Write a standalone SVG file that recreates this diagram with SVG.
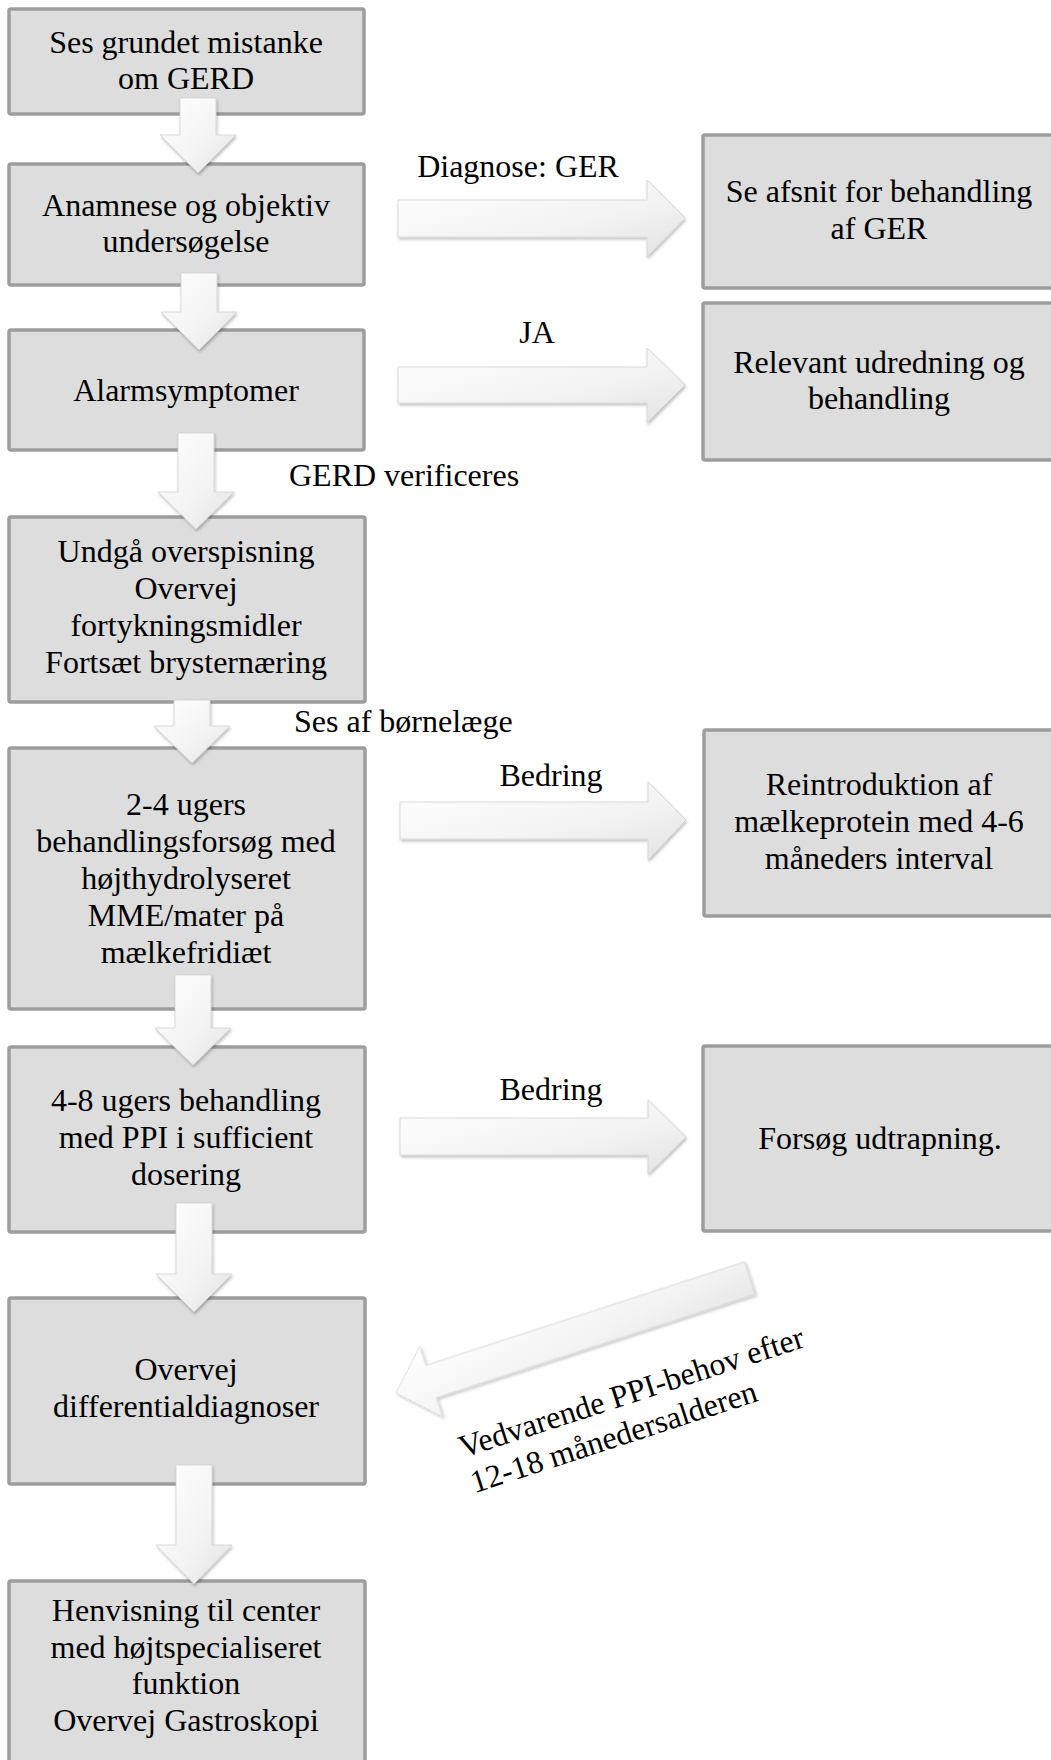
<svg xmlns="http://www.w3.org/2000/svg" width="1051" height="1760" viewBox="0 0 1051 1760">
<defs>
<linearGradient id="ag" x1="0" y1="0" x2="1" y2="1">
<stop offset="0" stop-color="#ffffff"/>
<stop offset="0.6" stop-color="#f3f3f3"/>
<stop offset="1" stop-color="#e2e2e2"/>
</linearGradient>
<filter id="sh" x="-20%" y="-20%" width="140%" height="140%">
<feDropShadow dx="1" dy="2" stdDeviation="1.5" flood-color="#000" flood-opacity="0.25"/>
</filter>
</defs>
<style>
.box{fill:#dddddd;stroke:#9d9d9d;stroke-width:3.5}
.t{font-family:"Liberation Serif","Times New Roman",serif;font-size:32px;fill:#000;text-anchor:middle}
.l{font-family:"Liberation Serif","Times New Roman",serif;font-size:32px;fill:#000}
.arr{fill:url(#ag);stroke:#d2d2d2;stroke-width:0.8;filter:url(#sh)}
</style>
<rect width="1051" height="1760" fill="#ffffff"/>

<g id="n1"><rect class="box" x="9" y="9" width="355" height="105" rx="2"/>
<text class="t" x="186" y="53">Ses grundet mistanke</text><text class="t" x="186" y="89">om GERD</text></g>

<g id="n2"><rect class="box" x="9" y="164" width="355" height="121" rx="2"/>
<text class="t" x="186" y="216">Anamnese og objektiv</text><text class="t" x="186" y="252">undersøgelse</text></g>

<g id="n3"><rect class="box" x="9" y="330" width="355" height="120" rx="2"/>
<text class="t" x="186" y="401">Alarmsymptomer</text></g>

<g id="n4"><rect class="box" x="9" y="517" width="356" height="185" rx="2"/>
<text class="t" x="186" y="562">Undgå overspisning</text><text class="t" x="186" y="599">Overvej</text><text class="t" x="186" y="636">fortykningsmidler</text><text class="t" x="186" y="673">Fortsæt brysternæring</text></g>

<g id="n5"><rect class="box" x="9" y="748" width="356" height="261" rx="2"/>
<text class="t" x="186" y="815">2-4 ugers</text><text class="t" x="186" y="852">behandlingsforsøg med</text><text class="t" x="186" y="889">højthydrolyseret</text><text class="t" x="186" y="926">MME/mater på</text><text class="t" x="186" y="963">mælkefridiæt</text></g>

<g id="n6"><rect class="box" x="9" y="1047" width="356" height="185" rx="2"/>
<text class="t" x="186" y="1111">4-8 ugers behandling</text><text class="t" x="186" y="1148">med PPI i sufficient</text><text class="t" x="186" y="1185">dosering</text></g>

<g id="n7"><rect class="box" x="9" y="1298" width="356" height="186" rx="2"/>
<text class="t" x="186" y="1380">Overvej</text><text class="t" x="186" y="1417">differentialdiagnoser</text></g>

<g id="n8"><rect class="box" x="9" y="1581" width="356" height="200" rx="2"/>
<text class="t" x="186" y="1621">Henvisning til center</text><text class="t" x="186" y="1658">med højtspecialiseret</text><text class="t" x="186" y="1694">funktion</text><text class="t" x="186" y="1731">Overvej Gastroskopi</text></g>

<g id="r1"><rect class="box" x="703" y="135" width="360" height="153" rx="2"/>
<text class="t" x="879" y="202">Se afsnit for behandling</text><text class="t" x="879" y="239">af GER</text></g>

<g id="r2"><rect class="box" x="703" y="303" width="360" height="157" rx="2"/>
<text class="t" x="879" y="373">Relevant udredning og</text><text class="t" x="879" y="409">behandling</text></g>

<g id="r3"><rect class="box" x="704" y="730" width="360" height="186" rx="2"/>
<text class="t" x="879" y="795">Reintroduktion af</text><text class="t" x="879" y="832">mælkeprotein med 4-6</text><text class="t" x="879" y="869">måneders interval</text></g>

<g id="r4"><rect class="box" x="703" y="1046" width="360" height="185" rx="2"/>
<text class="t" x="880" y="1149">Forsøg udtrapning.</text></g>

<g id="connectors">
<polygon class="arr" points="180,98 216,98 216,135 236,135 198,173 160,135 180,135"/>
<polygon class="arr" points="181,273 217,273 217,312 237,312 199,350 161,312 181,312"/>
<polygon class="arr" points="178,433 214,433 214,492 234,492 196,529 158,492 178,492"/>
<polygon class="arr" points="174,700 210,700 210,726 230,726 192,763 154,726 174,726"/>
<polygon class="arr" points="175,975 211,975 211,1028 231,1028 193,1065 155,1028 175,1028"/>
<polygon class="arr" points="176,1203 212,1203 212,1274 232,1274 194,1312 156,1274 176,1274"/>
<polygon class="arr" points="176,1465 212,1465 212,1545 232,1545 194,1584 156,1545 176,1545"/>

<polygon class="arr" points="398,200 647,200 647,180 685,218 647,257 647,237 398,237"/>
<polygon class="arr" points="398,367 647,367 647,348 685,385 647,423 647,403 398,403"/>
<polygon class="arr" points="400,802 648,802 648,782 686,820 648,860 648,839 400,839"/>
<polygon class="arr" points="400,1118 648,1118 648,1100 686,1137 648,1174 648,1155 400,1155"/>

<polygon class="arr" transform="translate(396,1393) rotate(-18)" points="0,0 37,-37 37,-17 372,-17 372,17 37,17 37,37"/>

<text class="l" x="518" y="177" text-anchor="middle">Diagnose: GER</text>
<text class="l" x="537" y="343" text-anchor="middle">JA</text>
<text class="l" x="289" y="486">GERD verificeres</text>
<text class="l" x="294" y="732">Ses af børnelæge</text>
<text class="l" x="551" y="786" text-anchor="middle">Bedring</text>
<text class="l" x="551" y="1100" text-anchor="middle">Bedring</text>
<g transform="translate(463,1458) rotate(-18)">
<text class="l" x="0" y="0">Vedvarende PPI-behov efter</text>
<text class="l" x="0" y="37">12-18 månedersalderen</text>
</g>
</g>
</svg>
